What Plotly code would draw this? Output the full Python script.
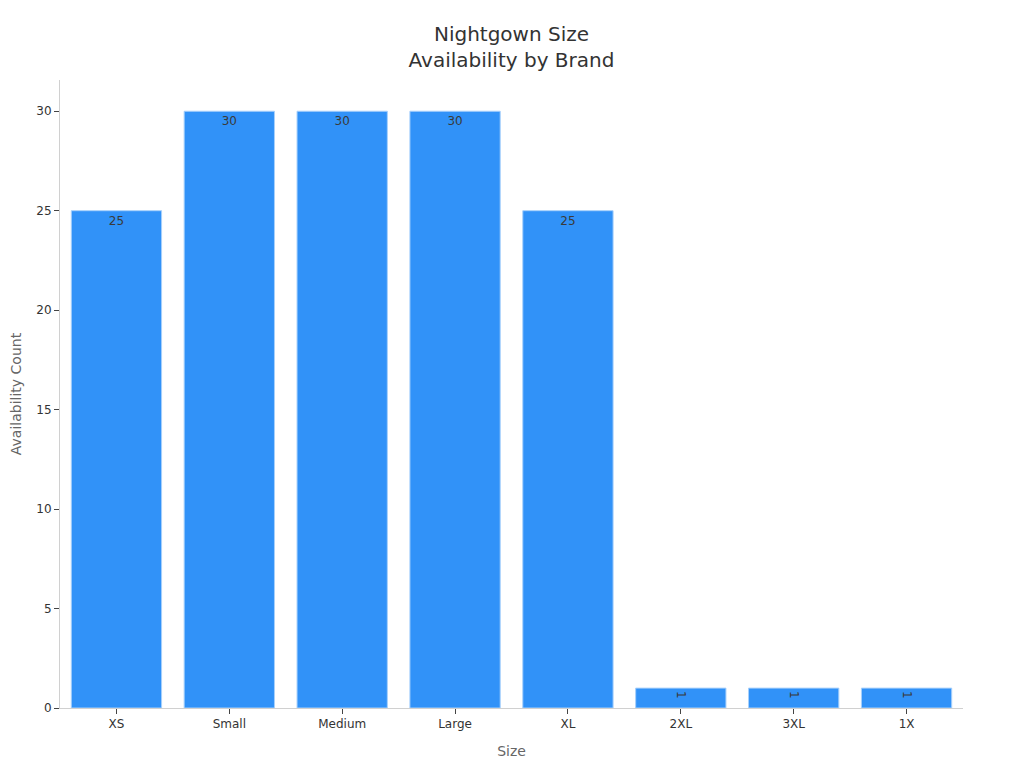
import plotly.graph_objects as go

sizes = ['XS', 'Small', 'Medium', 'Large', 'XL', '2XL', '3XL', '1X']
counts = [25, 30, 30, 30, 25, 1, 1, 1]

fig = go.Figure()
fig.add_trace(go.Bar(
    x=sizes, y=counts,
    text=counts, textposition='inside', insidetextanchor='end',
    textfont=dict(size=12, color='#3a3a3a'),
    marker=dict(color='#3192F8', line=dict(color='#a8d0fb', width=1)),
))
fig.update_layout(
    width=1024, height=768,
    title=dict(text='Nightgown Size<br>Availability by Brand', x=0.5, xref='paper',
               xanchor='center', y=0.957, yanchor='top',
               font=dict(size=20, color='#333333')),
    font=dict(family='DejaVu Sans', color='#333333'),
    plot_bgcolor='white', paper_bgcolor='white',
    margin=dict(l=52, r=69, t=72, b=68),
    bargap=0.2, showlegend=False,
    xaxis=dict(title=dict(text='Size', font=dict(size=14, color='#666666')),
               showline=True, linecolor='#d0d0d0', ticks='outside', tickcolor='#444444',
               ticklen=5, tickfont=dict(size=12), automargin=False),
    yaxis=dict(title=dict(text='Availability Count', font=dict(size=14, color='#666666'),
                          standoff=19),
               showline=True, linecolor='#d0d0d0', ticks='outside', tickcolor='#444444',
               ticklen=5, tickfont=dict(size=12), showgrid=False, zeroline=False,
               range=[0, 31.57], dtick=5, automargin=False),
)
fig.write_html("out.html")
